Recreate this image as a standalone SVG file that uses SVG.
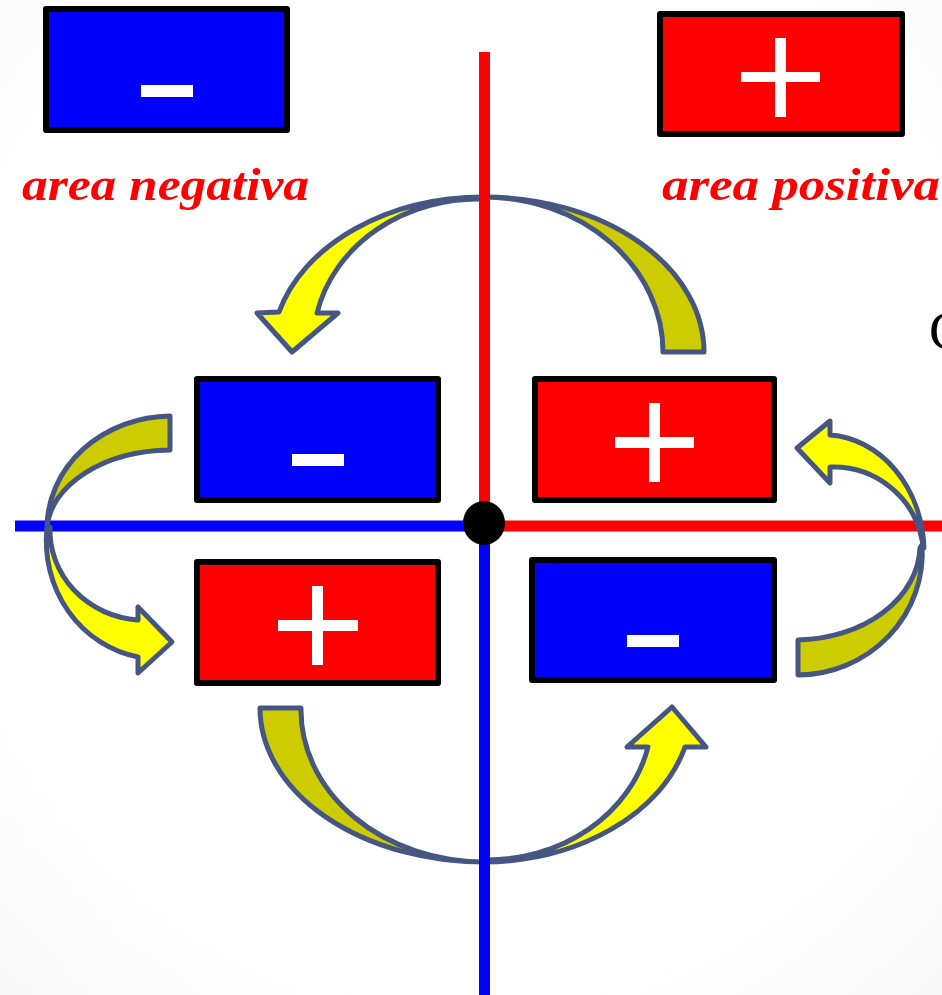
<svg xmlns="http://www.w3.org/2000/svg" width="942" height="995" viewBox="0 0 942 995">
<defs>
<radialGradient id="bg" cx="50%" cy="45%" r="75%">
<stop offset="0.75" stop-color="#ffffff"/>
<stop offset="1" stop-color="#f6f6f6"/>
</radialGradient>
</defs>
<style>
.box{stroke:#000;stroke-width:6;stroke-linejoin:round}
.neg{fill:#0000ff}
.pos{fill:#ff0000}
.sign{fill:#ffffff}
.dark{fill:#cccc00;stroke:#465682;stroke-width:5;stroke-linejoin:round}
.light{fill:#ffff00;stroke:#465682;stroke-width:5;stroke-linejoin:round}
.lbl{font-family:"Liberation Serif",serif;font-style:italic;font-weight:bold;font-size:46px;fill:#ff0000}
</style>
<rect x="0" y="0" width="942" height="995" fill="url(#bg)"/>

<g id="connectors">
<g id="arrow-top">
<path class="dark" d="M704,352 A220,155 0 0 0 484,197 A179,155 0 0 1 663,352 Z"/>
<path class="light" d="M484,197 A212,155 0 0 0 279,312 L257,313 L292,352 L338,313 L317,313 A165,145 0 0 1 484,199 Z"/>
</g>
<g id="arrow-bottom">
<path class="dark" d="M260,708 A224,154 0 0 0 484,862 A183,152 0 0 1 301,708 Z"/>
<path class="light" d="M484,862 A210,154 0 0 0 685,747 L706,747 L672,707 L627,747 L648,747 A165,145 0 0 1 484,860 Z"/>
</g>
<line x1="484.5" y1="52" x2="484.5" y2="522" stroke="#ff0000" stroke-width="11"/>
<line x1="484.5" y1="522" x2="484.5" y2="995" stroke="#0000ff" stroke-width="11"/>
<line x1="15" y1="526" x2="484" y2="526" stroke="#0000ff" stroke-width="11"/>
<line x1="484" y1="526" x2="942" y2="526" stroke="#ff0000" stroke-width="11"/>
<g id="arrow-left">
<path class="dark" d="M170,416 A125,112 0 0 0 47,528 A125,82 0 0 1 170,450 Z"/>
<path class="light" d="M47,528 A112,118 0 0 0 138,657 L138,673 L172,642 L138,607 L138,620 A95,90 0 0 1 50,527 Z"/>
</g>
<g id="arrow-right">
<path class="dark" d="M922,545 A125,122 0 0 1 798,675 L798,640 A125,95 0 0 0 920,548 Z"/>
<path class="light" d="M924,548 A100,118 0 0 0 830,435 L830,421 L797,448 L830,483 L830,467 A90,90 0 0 1 922,540 Z"/>
</g>
</g>

<g id="origin"><ellipse cx="484" cy="523" rx="21" ry="22" fill="#000"/></g>

<g id="box-top-neg">
<rect class="box neg" x="46" y="9" width="241" height="121"/>
<rect class="sign" x="141" y="85" width="52" height="12"/>
</g>
<g id="box-top-pos">
<rect class="box pos" x="660" y="14" width="242" height="120"/>
<rect class="sign" x="741" y="72" width="79" height="10"/>
<rect class="sign" x="775" y="38" width="11" height="79"/>
</g>
<g id="box-q2">
<rect class="box neg" x="197" y="379" width="241" height="121"/>
<rect class="sign" x="292" y="454" width="52" height="12"/>
</g>
<g id="box-q1">
<rect class="box pos" x="535" y="379" width="239" height="121"/>
<rect class="sign" x="615" y="437" width="79" height="11"/>
<rect class="sign" x="649" y="403" width="11" height="79"/>
</g>
<g id="box-q3">
<rect class="box pos" x="197" y="562" width="241" height="121"/>
<rect class="sign" x="278" y="620" width="80" height="11"/>
<rect class="sign" x="312" y="586" width="11" height="79"/>
</g>
<g id="box-q4">
<rect class="box neg" x="532" y="560" width="242" height="120"/>
<rect class="sign" x="627" y="635" width="52" height="12"/>
</g>

<g id="label-neg"><text class="lbl" x="22" y="200" textLength="287" lengthAdjust="spacingAndGlyphs">area negativa</text></g>
<g id="label-pos"><text class="lbl" x="662" y="200" textLength="278" lengthAdjust="spacingAndGlyphs">area positiva</text></g>
<g id="partial"><text x="929" y="349" font-family="Liberation Serif, serif" font-size="54" fill="#000">C</text></g>
</svg>
